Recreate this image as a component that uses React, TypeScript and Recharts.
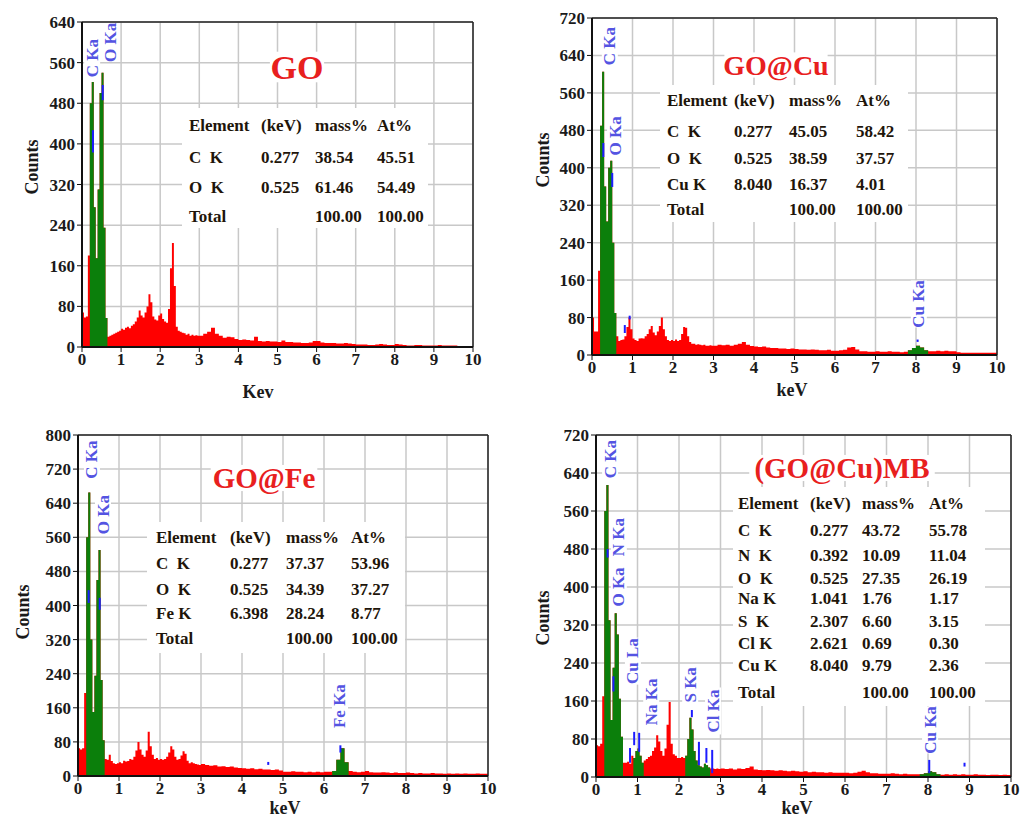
import React from 'react';
import {
  AreaChart,
  Area,
  XAxis,
  YAxis,
  CartesianGrid,
  ReferenceLine,
  ReferenceDot,
} from 'recharts';

const FONT = '"Liberation Serif", "Times New Roman", serif';

// channel grid: 50 eV channels up to 3 keV, 100 eV channels from 3.1 to 10 keV
const energies: number[] = [];
for (let i = 0; i <= 60; i++) energies.push(+(i * 0.05).toFixed(2));
for (let i = 31; i <= 100; i++) energies.push(+(i * 0.1).toFixed(1));

const kevTicks = [0, 1, 2, 3, 4, 5, 6, 7, 8, 9, 10];

// counts per channel, GO
const goCounts = [
  68, 58, 60, 180, 480, 522, 275, 175, 310, 500, 540, 235, 57, 20, 22, 24, 26, 28, 30, 32,
  36, 34, 38, 40, 37, 42, 45, 50, 58, 72, 62, 58, 68, 80, 104, 88, 60, 54, 52, 62,
  66, 55, 50, 48, 75, 155, 205, 120, 40, 32, 30, 28, 27, 24, 26, 22, 24, 22, 23, 22, 22,
  26, 30, 38, 26, 22, 18, 20, 19, 16, 14,
  15, 14, 13, 20, 12, 11, 12, 11, 11, 10,
  13, 10, 10, 9, 9, 8, 8, 9, 12, 12,
  9, 8, 8, 8, 7, 7, 8, 7, 6, 5,
  5, 5, 4, 4, 5, 6, 5, 4, 4, 6,
  5, 4, 3, 3, 4, 4, 3, 3, 3, 3,
  4, 3, 3, 3, 3, 2, 2, 2, 2, 2,
];

// GO@Cu
const goCuCounts = [
  80, 50, 50, 180, 490, 605, 360, 285, 400, 415, 240, 90, 40, 30, 32, 33, 40, 60, 80, 55,
  35, 32, 30, 35, 36, 35, 40, 45, 55, 62, 48, 42, 50, 62, 80, 55, 40, 32, 30, 32,
  30, 33, 30, 32, 45, 60, 58, 40, 28, 24, 24, 22, 23, 22, 21, 22, 20, 20, 21, 20, 20,
  22, 21, 22, 20, 22, 24, 28, 22, 19, 18,
  17, 18, 16, 15, 15, 14, 14, 13, 14, 13,
  12, 12, 11, 12, 11, 10, 10, 11, 9, 9,
  10, 11, 16, 17, 12, 8, 8, 7, 7, 8,
  7, 7, 8, 7, 7, 6, 7, 10, 15, 20,
  16, 10, 8, 8, 9, 8, 9, 8, 8, 6,
  5, 5, 5, 5, 5, 5, 5, 5, 5, 5,
];

// GO@Fe
const goFeCounts = [
  65, 62, 65, 195, 560, 665, 320, 150, 235, 460, 530, 225, 84, 40, 38, 50, 35, 30, 28, 30,
  32, 30, 36, 34, 35, 40, 38, 45, 60, 80, 62, 50, 45, 60, 104, 70, 50, 40, 42, 38,
  40, 38, 40, 45, 55, 70, 62, 45, 38, 40, 48, 58, 52, 36, 30, 32, 30, 28, 27, 26, 28,
  26, 24, 25, 22, 23, 21, 22, 20, 19, 18,
  17, 18, 16, 17, 15, 15, 14, 15, 13, 10,
  10, 11, 10, 10, 9, 10, 9, 10, 9, 10,
  10, 12, 38, 65, 32, 12, 10, 9, 10, 12,
  9, 8, 8, 9, 8, 7, 8, 7, 7, 8,
  7, 6, 7, 6, 6, 7, 6, 6, 5, 6,
  5, 6, 5, 6, 5, 5, 6, 5, 5, 5,
];

// (GO@Cu)MB
const goCuMbCounts = [
  67, 65, 70, 170, 560, 615, 330, 120, 230, 345, 300, 165, 85, 30, 30, 32, 28, 45, 40, 55,
  60, 45, 30, 35, 38, 42, 45, 55, 62, 88, 75, 55, 45, 60, 110, 158, 70, 48, 45, 40,
  40, 42, 40, 45, 80, 125, 100, 55, 35, 25, 22, 20, 28, 25, 20, 18, 18, 17, 18, 17, 18,
  17, 18, 16, 18, 17, 19, 22, 16, 15, 14,
  15, 14, 13, 14, 13, 12, 13, 12, 11, 12,
  10, 11, 10, 10, 9, 10, 9, 9, 9, 9,
  8, 9, 11, 13, 10, 8, 8, 7, 7, 7,
  8, 7, 6, 7, 6, 6, 6, 6, 8, 12,
  10, 6, 5, 6, 5, 6, 5, 6, 5, 5,
  6, 5, 5, 4, 5, 5, 4, 5, 4, 4,
];

// energy windows (keV) of the identified peaks, filled green
const goWindows = [[0.2, 0.4], [0.45, 0.65]];
const goCuWindows = [[0.2, 0.35], [0.4, 0.6], [7.8, 8.3]];
const goFeWindows = [[0.2, 0.4], [0.45, 0.65], [6.2, 6.6]];
const goCuMbWindows = [[0.2, 0.65], [0.9, 1.15], [2.15, 2.75], [7.8, 8.3]];

// KLM marker lines: [keV, from count, to count]
const goMarkers = [[0.28, 383, 427], [0.53, 486, 516]];
const goCuMarkers = [[0.28, 423, 453], [0.5, 359, 389], [0.81, 47, 64], [0.93, 76, 84], [8.04, 28, 33]];
const goFeMarkers = [[0.26, 406, 436], [0.53, 390, 418], [4.64, 26, 33], [6.4, 55, 72]];
const goCuMbMarkers = [
  [0.28, 462, 480], [0.42, 180, 212], [0.82, 30, 61], [0.92, 67, 95], [1.04, 53, 93],
  [2.31, 126, 141], [2.48, 25, 74], [2.66, 30, 61], [2.8, 8, 57], [8.03, 8, 36], [8.88, 22, 30],
];

const TABLE_HEAD = ['Element', '(keV)', 'mass%', 'At%'];

const goTable = [
  ['C  K', '0.277', '38.54', '45.51'],
  ['O  K', '0.525', '61.46', '54.49'],
  ['Total', '', '100.00', '100.00'],
];
const goCuTable = [
  ['C  K', '0.277', '45.05', '58.42'],
  ['O  K', '0.525', '38.59', '37.57'],
  ['Cu K', '8.040', '16.37', '4.01'],
  ['Total', '', '100.00', '100.00'],
];
const goFeTable = [
  ['C  K', '0.277', '37.37', '53.96'],
  ['O  K', '0.525', '34.39', '37.27'],
  ['Fe K', '6.398', '28.24', '8.77'],
  ['Total', '', '100.00', '100.00'],
];
const goCuMbTable = [
  ['C  K', '0.277', '43.72', '55.78'],
  ['N  K', '0.392', '10.09', '11.04'],
  ['O  K', '0.525', '27.35', '26.19'],
  ['Na K', '1.041', '1.76', '1.17'],
  ['S  K', '2.307', '6.60', '3.15'],
  ['Cl K', '2.621', '0.69', '0.30'],
  ['Cu K', '8.040', '9.79', '2.36'],
  ['Total', '', '100.00', '100.00'],
];

type Tag = { text: string; e: number; c: number };

type PanelSpec = {
  left: number;
  top: number;
  width: number;
  height: number;
  plot: [number, number, number, number]; // left, right, top, bottom (page px)
  yMax: number;
  counts: number[];
  windows: number[][];
  markers: number[][];
  tags: Tag[];
  title: string;
  titleAt: [number, number];
  titleSize: number;
  xTitle: string;
  xTitleAt: [number, number];
  yTitleAt: [number, number];
  table: string[][];
  cols: number[];
  rowsY: number[];
  box: [number, number, number, number];
};

const panels: PanelSpec[] = [
  {
    left: 0, top: 0, width: 515, height: 408,
    plot: [82, 473, 22, 347], yMax: 640,
    counts: goCounts, windows: goWindows, markers: goMarkers,
    tags: [{ text: 'C Ka', e: 0.26, c: 569 }, { text: 'O Ka', e: 0.72, c: 600 }],
    title: 'GO', titleAt: [297, 67], titleSize: 34,
    xTitle: 'Kev', xTitleAt: [258, 392], yTitleAt: [32, 167],
    table: goTable, cols: [189, 261, 315, 377], rowsY: [125, 157, 187, 216], box: [182, 108, 246, 120],
  },
  {
    left: 520, top: 0, width: 515, height: 408,
    plot: [592, 997, 18, 355], yMax: 720,
    counts: goCuCounts, windows: goCuWindows, markers: goCuMarkers,
    tags: [
      { text: 'C Ka', e: 0.44, c: 660 },
      { text: 'O Ka', e: 0.57, c: 468 },
      { text: 'Cu Ka', e: 8.07, c: 109 },
    ],
    title: 'GO@Cu', titleAt: [256, 65], titleSize: 28,
    xTitle: 'keV', xTitleAt: [272, 390], yTitleAt: [23, 160],
    table: goCuTable, cols: [147, 214, 269, 336], rowsY: [100, 131, 158, 184, 209], box: [140, 85, 248, 137],
  },
  {
    left: 0, top: 420, width: 515, height: 397,
    plot: [78, 488, 435, 776], yMax: 800,
    counts: goFeCounts, windows: goFeWindows, markers: goFeMarkers,
    tags: [
      { text: 'C Ka', e: 0.34, c: 742 },
      { text: 'O Ka', e: 0.61, c: 613 },
      { text: 'Fe Ka', e: 6.39, c: 164 },
    ],
    title: 'GO@Fe', titleAt: [264, 58], titleSize: 29,
    xTitle: 'keV', xTitleAt: [285, 388], yTitleAt: [23, 192],
    table: goFeTable, cols: [156, 230, 286, 351], rowsY: [117, 143, 169, 193, 218], box: [147, 102, 258, 131],
  },
  {
    left: 520, top: 420, width: 515, height: 397,
    plot: [596, 1011, 435, 777], yMax: 720,
    counts: goCuMbCounts, windows: goCuMbWindows, markers: goCuMbMarkers,
    tags: [
      { text: 'C Ka', e: 0.34, c: 669 },
      { text: 'N Ka', e: 0.55, c: 505 },
      { text: 'O Ka', e: 0.55, c: 400 },
      { text: 'Cu La', e: 0.89, c: 244 },
      { text: 'Na Ka', e: 1.33, c: 158 },
      { text: 'S Ka', e: 2.27, c: 194 },
      { text: 'Cl Ka', e: 2.82, c: 139 },
      { text: 'Cu Ka', e: 8.05, c: 99 },
    ],
    title: '(GO@Cu)MB', titleAt: [322, 48], titleSize: 29,
    xTitle: 'keV', xTitleAt: [277, 388], yTitleAt: [23, 198],
    table: goCuMbTable, cols: [218, 290, 342, 409],
    rowsY: [83, 110, 135, 158, 178, 201, 223, 245, 272], box: [213, 67, 252, 219],
  },
];

const tickStyle = { fill: '#1a1a1a', fontSize: 17, fontWeight: 700, fontFamily: FONT };

const PeakTag = ({ cx, cy, text }: { cx?: number; cy?: number; text: string }) => {
  if (cx == null || cy == null) return null;
  const w = text.length * 8.6 + 4;
  return (
    <g transform={`translate(${cx},${cy}) rotate(-90)`}>
      <rect x={-w / 2} y={-8} width={w} height={16} fill="#ffffff" />
      <text
        x={0}
        y={0}
        textAnchor="middle"
        dominantBaseline="central"
        fill="#5454e2"
        fontSize={17}
        fontWeight={700}
        fontFamily={FONT}
      >
        {text}
      </text>
    </g>
  );
};

const Spectrum = ({ p }: { p: PanelSpec }) => {
  const [pl, pr, pt, pb] = p.plot;
  const yTicks: number[] = [];
  for (let v = 0; v <= p.yMax; v += 80) yTicks.push(v);

  const data = energies.map((e, i) => ({
    e,
    total: p.counts[i],
    peak: p.windows.some(([a, b]) => e >= a - 1e-6 && e <= b + 1e-6) ? p.counts[i] : null,
  }));

  return (
    <div style={{ position: 'absolute', left: p.left, top: p.top, width: p.width, height: p.height }}>
      <AreaChart
        width={p.width}
        height={p.height}
        data={data}
        margin={{ top: pt - p.top, right: p.left + p.width - pr, bottom: 0, left: 0 }}
      >
        <CartesianGrid stroke="#c8c8c8" strokeWidth={1.5} />
        <XAxis
          type="number"
          dataKey="e"
          domain={[0, 10]}
          ticks={kevTicks}
          interval={0}
          allowDataOverflow
          height={p.top + p.height - pb}
          tick={tickStyle}
          tickSize={5}
          tickMargin={1}
          tickLine={{ stroke: '#111' }}
          axisLine={{ stroke: '#111', strokeWidth: 2 }}
        />
        <YAxis
          type="number"
          domain={[0, p.yMax]}
          ticks={yTicks}
          interval={0}
          allowDataOverflow
          width={pl - p.left}
          tick={tickStyle}
          tickSize={5}
          tickMargin={2}
          tickLine={{ stroke: '#111' }}
          axisLine={{ stroke: '#111', strokeWidth: 2 }}
        />
        {/* whole spectrum in red, identified peak windows painted green on top */}
        <Area
          type="stepAfter"
          dataKey="total"
          stroke="none"
          fill="#ff0000"
          fillOpacity={1}
          dot={false}
          activeDot={false}
          isAnimationActive={false}
        />
        <Area
          type="stepAfter"
          dataKey="peak"
          stroke="none"
          fill="#0b7f0b"
          fillOpacity={1}
          connectNulls={false}
          dot={false}
          activeDot={false}
          isAnimationActive={false}
        />
        <ReferenceLine y={0} stroke="#ff0000" strokeWidth={2} />
        <ReferenceLine y={p.yMax} stroke="#222" strokeWidth={1.5} />
        <ReferenceLine x={10} stroke="#222" strokeWidth={1.5} />
        {p.markers.map(([e, lo, hi], i) => (
          <ReferenceLine
            key={`m${i}`}
            segment={[{ x: e, y: lo }, { x: e, y: hi }]}
            stroke="#1c1cff"
            strokeWidth={2}
            ifOverflow="visible"
          />
        ))}
        {p.tags.map((t) => (
          <ReferenceDot
            key={t.text}
            x={t.e}
            y={t.c}
            r={0}
            ifOverflow="visible"
            shape={(props: any) => <PeakTag cx={props.cx} cy={props.cy} text={t.text} />}
          />
        ))}
      </AreaChart>

      <svg
        width={p.width}
        height={p.height}
        style={{ position: 'absolute', left: 0, top: 0, pointerEvents: 'none' }}
      >
        {/* element table */}
        <rect x={p.box[0]} y={p.box[1]} width={p.box[2]} height={p.box[3]} fill="#ffffff" />
        {[TABLE_HEAD, ...p.table].map((row, r) =>
          row.map((cell, c) => (
            <text
              key={`${r}-${c}`}
              x={p.cols[c]}
              y={p.rowsY[r]}
              dominantBaseline="central"
              fill="#1e150a"
              fontSize={17}
              fontWeight={700}
              fontFamily={FONT}
              style={{ whiteSpace: 'pre' }}
            >
              {cell}
            </text>
          ))
        )}

        {/* sample name */}
        <rect
          x={p.titleAt[0] - (p.title.length * p.titleSize * 0.68) / 2 - 4}
          y={p.titleAt[1] - p.titleSize * 0.45}
          width={p.title.length * p.titleSize * 0.68 + 8}
          height={p.titleSize * 0.9}
          fill="#ffffff"
        />
        <text
          x={p.titleAt[0]}
          y={p.titleAt[1]}
          textAnchor="middle"
          dominantBaseline="central"
          fill="#e8201e"
          fontSize={p.titleSize}
          fontWeight={700}
          fontFamily={FONT}
        >
          {p.title}
        </text>

        {/* axis titles */}
        <text
          x={p.xTitleAt[0]}
          y={p.xTitleAt[1]}
          textAnchor="middle"
          dominantBaseline="central"
          fill="#1a1a1a"
          fontSize={18}
          fontWeight={700}
          fontFamily={FONT}
        >
          {p.xTitle}
        </text>
        <text
          transform={`translate(${p.yTitleAt[0]},${p.yTitleAt[1]}) rotate(-90)`}
          textAnchor="middle"
          dominantBaseline="central"
          fill="#1a1a1a"
          fontSize={18}
          fontWeight={700}
          fontFamily={FONT}
        >
          Counts
        </text>
      </svg>
    </div>
  );
};

export default function App() {
  return (
    <div
      style={{
        position: 'absolute',
        left: 0,
        top: 0,
        width: 1035,
        height: 817,
        background: '#ffffff',
        overflow: 'hidden',
      }}
    >
      {panels.map((p) => (
        <Spectrum key={p.title} p={p} />
      ))}
    </div>
  );
}
